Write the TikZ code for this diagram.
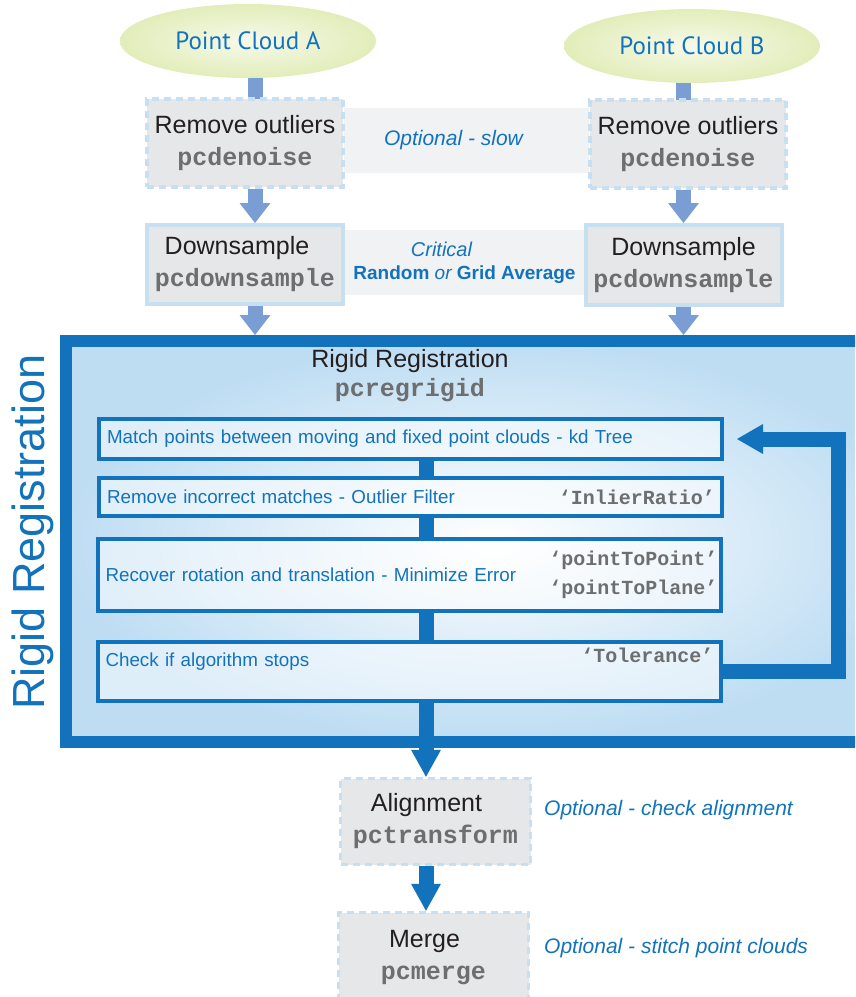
\documentclass[tikz,border=0pt]{standalone}
\usepackage{fontspec}
\setmainfont{Liberation Sans}
\setmonofont{Liberation Mono}
\newfontfamily\cloudfont{PT Sans}
\usetikzlibrary{arrows.meta,backgrounds,shapes.geometric}

\definecolor{regblue}{RGB}{18,115,188}
\definecolor{softblue}{RGB}{122,158,212}
\definecolor{edgeblue}{RGB}{198,224,242}
\definecolor{boxgray}{RGB}{230,231,232}
\definecolor{bandgray}{RGB}{241,242,243}
\definecolor{cloudgreen}{RGB}{226,237,186}
\definecolor{keygray}{RGB}{109,110,112}
\definecolor{inkgray}{RGB}{35,31,32}
\definecolor{glowblue}{RGB}{190,221,243}

\newcommand\setsz[2]{\fontsize{#1}{#2}\selectfont}
\newcommand\pcfn[1]{{\ttfamily\bfseries\color{keygray}#1}}

\begin{document}
\begin{tikzpicture}[x=1pt,y=-1pt]
%%%%%%%%%%%%%%%%%%%%%%%%%%%%%%%%%%%%%%%%%%%%%%%%%%%%%%%%
% STYLE
\tikzstyle{pcloud}=[ellipse,inner color=white!70!cloudgreen,outer color=cloudgreen,minimum width=256pt,minimum height=74pt,font=\cloudfont\setsz{25}{30},text=regblue]
\tikzstyle{fnbox}=[rectangle,fill=boxgray,draw=edgeblue,line width=3.5pt,dash pattern=on 7pt off 5pt,minimum width=196pt,minimum height=88pt,inner sep=0pt,align=center,font=\setsz{25}{32},text=inkgray]
\tikzstyle{keybox}=[fnbox,solid,line width=4pt]
\tikzstyle{band}=[rectangle,fill=bandgray,minimum height=65pt,inner sep=0pt,align=center,text=regblue]
\tikzstyle{regframe}=[rectangle,draw=regblue,line width=12pt,inner color=white,outer color=glowblue,minimum width=854pt,minimum height=401pt]
\tikzstyle{stepbox}=[rectangle,draw=regblue,line width=4pt,fill=white,fill opacity=0.5,text opacity=1,text width=607pt,inner xsep=8pt,inner ysep=0pt,align=left,font=\setsz{18.8}{23},text=regblue]
\tikzstyle{optkey}=[anchor=east,inner sep=0pt,align=right,font=\ttfamily\bfseries\setsz{20}{29},text=keygray]
\tikzstyle{note}=[anchor=west,inner sep=0pt,font=\itshape\setsz{21}{25},text=regblue]

\tikzset{shaft/.style={draw=softblue,line width=15pt}}
\tikzset{link/.style={shaft,-{Triangle[width=31pt,length=20pt,line width=0pt]}}}
\tikzset{bar/.style={draw=regblue,line width=15pt}}
\tikzset{flow/.style={bar,-{Triangle[width=30pt,length=27pt,line width=0pt]}}}
\tikzset{loopback/.style={bar,-{Triangle[width=30pt,length=26pt,line width=0pt]}}}

\useasboundingbox (0,0) rectangle (855,997);
\clip (0,0) rectangle (855,997);

%%%%%%%%%%%%%%%%%%%%%%%%%%%%%%%%%%%%%%%%%%%%%%%%%%%%%%%%
% NODES
\coordinate (XA) at (255,0);
\coordinate (XB) at (683.5,0);
\coordinate (XC) at (426,0);

\node[pcloud] (PA) at (248,41) {Point Cloud A};
\node[pcloud] (PB) at (692,46) {Point Cloud B};

\node[band,minimum width=245pt,inner xsep=0pt,font=\itshape\setsz{21}{25}] (OS) at (466.5,140.5) {Optional - slow\hspace*{26pt}};
\node[band,minimum width=239pt,font=\setsz{19}{23}] (CR) at (464.5,262.5)
  {{\itshape\setsz{20}{23}Critical\hspace*{46pt}}\\{\bfseries Random} {\itshape or} {\bfseries Grid Average}};

\node[fnbox] (RA) at (245,143) {Remove outliers\\\pcfn{pcdenoise}};
\node[fnbox] (RB) at (688,144) {Remove outliers\\\pcfn{pcdenoise}};

\node[keybox,minimum height=79pt] (DA) at (245,264.5) {Downsample\hspace*{16pt}\\\pcfn{pcdownsample}};
\node[keybox,minimum height=80pt] (DB) at (683.5,265) {Downsample\\\pcfn{pcdownsample}};

\node[regframe] (REG) at (493,541.5) {};
\node[rotate=90,font=\setsz{45}{50},text=regblue] (VT) at (33,532) {Rigid Registration};
\node[align=center,font=\setsz{25}{29},text=inkgray] (TT) at (410,376) {Rigid Registration\\\pcfn{pcregrigid}};

\node[stepbox,minimum height=40pt] (S1) at (410.5,439) {Match points between moving and fixed point clouds - kd Tree};
\node[stepbox,minimum height=38pt] (S2) at (410.5,497) {Remove incorrect matches - Outlier Filter};
\node[stepbox,minimum height=72pt] (S3) at (409,575) {Recover rotation and translation - Minimize Error};
\node[stepbox,minimum height=59pt,text depth=23pt] (S4) at (409,671.5) {Check if algorithm stops};

\node[optkey] (K2) at ([xshift=-9pt]S2.east) {‘InlierRatio’};
\node[optkey] (K3) at ([xshift=-5pt]S3.east) {‘pointToPoint’\\‘pointToPlane’};
\node[optkey] (K4) at ([xshift=-9pt,yshift=16.5pt]S4.east) {‘Tolerance’};

\node[fnbox,minimum width=190pt,minimum height=86pt] (AL) at (435.5,821.5) {Alignment\hspace*{18pt}\\\pcfn{pctransform}};
\node[fnbox,minimum width=190pt,minimum height=91pt] (ME) at (433.5,958) {Merge\hspace*{18pt}\\\pcfn{pcmerge}};

\node[note] (NA) at (544,810) {Optional - check alignment};
\node[note] (NB) at (544,948) {Optional - stitch point clouds};

%%%%%%%%%%%%%%%%%%%%%%%%%%%%%%%%%%%%%%%%%%%%%%%%%%%%%%%%
% LINKS
\begin{scope}[on background layer]
\draw[shaft] (PA -| XA) -- (RA -| XA);
\draw[link] (RA.south -| XA) -- (DA.north -| XA);
\draw[link] (DA.south -| XA) -- (REG.north -| XA);
\draw[shaft] (PB -| XB) -- (RB -| XB);
\draw[link] (RB.south -| XB) -- (DB.north -| XB);
\draw[link] (DB.south -| XB) -- (REG.north -| XB);
\end{scope}

\draw[bar] (S1.south -| XC) -- (S2.north -| XC);
\draw[bar] (S2.south -| XC) -- (S3.north -| XC);
\draw[bar] (S3.south -| XC) -- (S4.north -| XC);
\draw[flow] (S4.south -| XC) -- (AL.north -| XC);
\draw[flow] (AL.south -| XC) -- (ME.north -| XC);
\draw[loopback] (S4.east) -- ++(115.5,0) |- ([xshift=13pt]S1.east);

\end{tikzpicture}
\end{document}
